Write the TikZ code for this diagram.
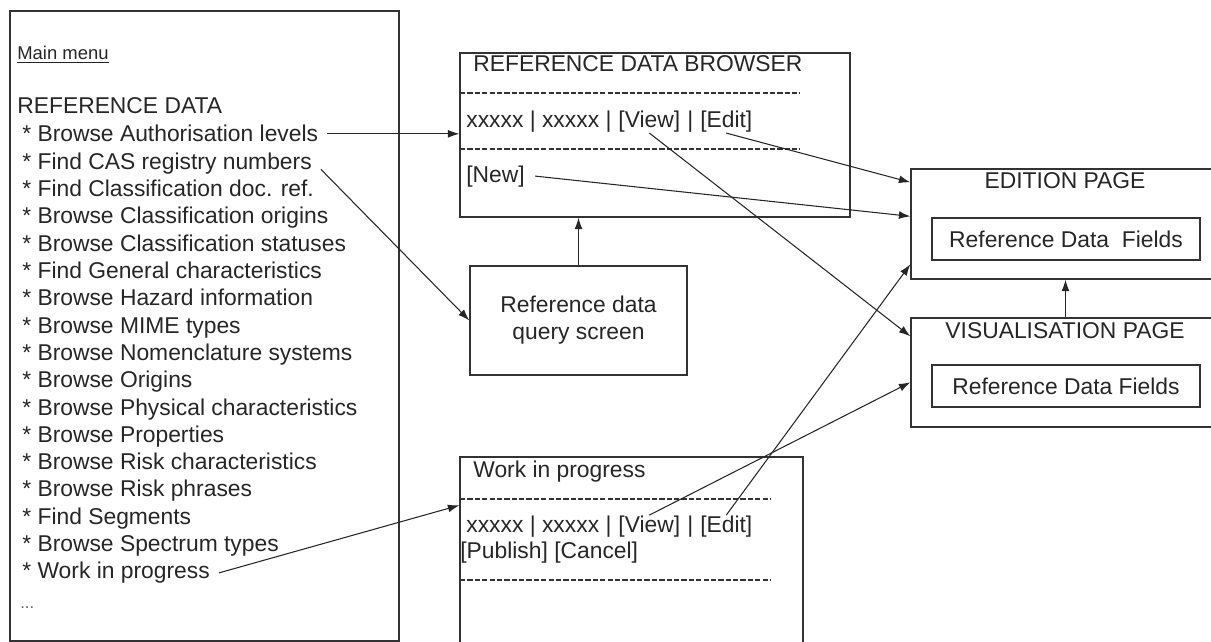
\documentclass[tikz,border=0pt]{standalone}
\usepackage{fontspec}
\setmainfont{Liberation Sans}
\usetikzlibrary{arrows.meta,positioning}

\tikzset{
  frame/.style={draw=black!80, line width=0.8pt, inner sep=0pt},
  txt/.style={inner sep=0pt, anchor=base west, text=black!85, font=\fontsize{13}{15}\selectfont},
  item/.style={txt, inner xsep=5pt},
  sepline/.style={draw=black!80, line width=0.7pt, dash pattern=on 3pt off 1.2pt},
  link/.style={->, line width=0.6pt, draw=black!85},
}

\begin{document}
\begin{tikzpicture}[x=0.02cm, y=-0.02cm, >={Latex[length=6.5pt,width=4.5pt]}]
  \clip (0,0) rectangle (1211,642);
  % main menu
  \node [frame, minimum width=7.78cm, minimum height=12.6cm] (menu) at (204.5,326) {};
  \node [txt, font=\fontsize{10.5}{12}\selectfont] (mm) at (17,60) {\underline{Main menu}};
  \node [txt] (rd) at (17,113) {REFERENCE DATA};
  \foreach \t [count=\i] in {Browse Authorisation levels, Find CAS registry numbers,
      Find Classification doc. ref., Browse Classification origins,
      Browse Classification statuses, Find General characteristics,
      Browse Hazard information, Browse MIME types, Browse Nomenclature systems,
      Browse Origins, Browse Physical characteristics, Browse Properties,
      Browse Risk characteristics, Browse Risk phrases, Find Segments,
      Browse Spectrum types, Work in progress}
    \node [item] (item\i) at (13.2,{142+27.3*(\i-1)}) {* \t};
  \node [txt, text=black!60, font=\fontsize{9.5}{10}\selectfont] (more) at (20,608) {...};

  % browser
  \node [frame, minimum width=7.8cm, minimum height=3.28cm] (brw) at (655,135) {};
  \node [txt] (btitle) at (473,72) {REFERENCE DATA BROWSER};
  \draw [sepline] (460,93) -- (800,93);
  \node [txt] (bx) at (466,128) {xxxxx | xxxxx |};
  \node [txt, base right=3.6pt of bx] (bview) {[View]};
  \node [txt, base right=3.6pt of bview] (bbar) {|};
  \node [txt, base right=3.6pt of bbar] (bedit) {[Edit]};
  \draw [sepline] (460,149) -- (800,149);
  \node [txt] (bnew) at (466,182) {[New]};

  % query screen
  \node [frame, minimum width=4.34cm, minimum height=2.18cm, align=center,
    text=black!85, font=\fontsize{13}{15.4}\selectfont] (q) at (578.5,320.5)
    {Reference data\\query screen};

  % work in progress
  \node [frame, minimum width=6.86cm, minimum height=4.06cm] (wip) at (631.5,558.5) {};
  \node [txt] (wtitle) at (473,477) {Work in progress};
  \draw [sepline] (460,499) -- (770,499);
  \node [txt] (wx) at (466,532) {xxxxx | xxxxx |};
  \node [txt, base right=3.6pt of wx] (wview) {[View]};
  \node [txt, base right=3.6pt of wview] (wbar) {|};
  \node [txt, base right=3.6pt of wbar] (wedit) {[Edit]};
  \node [txt] (wpub) at (460,558) {[Publish] [Cancel]};
  \draw [sepline] (460,580) -- (770,580);

  % edition / visualisation
  \node [frame, minimum width=6.18cm, minimum height=2.2cm] (ed) at (1065.5,224) {};
  \node [txt, anchor=base] (etitle) at (1065,189) {EDITION PAGE};
  \node [frame, minimum width=5.36cm, minimum height=0.84cm, text=black!85,
    font=\fontsize{13}{15}\selectfont] (ef) at (1066,239) {Reference Data~ Fields};
  \node [frame, minimum width=6.18cm, minimum height=2.18cm] (vis) at (1065.5,372.5) {};
  \node [txt, anchor=base] (vtitle) at (1065,338) {VISUALISATION PAGE};
  \node [frame, minimum width=5.36cm, minimum height=0.84cm, text=black!85,
    font=\fontsize{13}{15}\selectfont] (vf) at (1066,386) {Reference Data Fields};

  % connectors
  \draw [link] (item1.east) -- (item1.east -| brw.west);
  \draw [link] (item2.base east) -- (q.west);
  \draw [link] (item17.east) -- ([shift={(0,49)}]wip.north west);
  \draw [link] (q.north) -- (q.north |- brw.south);
  \draw [link] (bedit.south) -- ([shift={(0,14)}]ed.north west);
  \draw [link] ([shift={(10,0)}]bnew.east) -- ([shift={(0,48)}]ed.north west);
  \draw [link] (bview.south) -- ([shift={(0,19)}]vis.north west);
  \draw [link] (wedit.north) -- ([shift={(0,96)}]ed.north west);
  \draw [link] (wview.north) -- ([shift={(0,65)}]vis.north west);
  \draw [link] (vis.north) -- (ed.south);
\end{tikzpicture}
\end{document}
